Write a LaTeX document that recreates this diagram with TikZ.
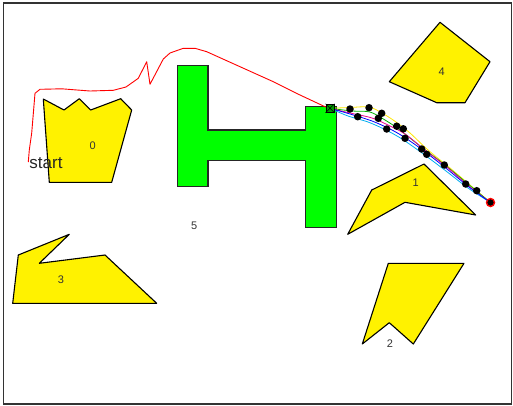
\documentclass[tikz,border=0pt]{standalone}
\usepackage{fontspec}
\setmainfont{Liberation Sans}
\begin{document}
\begin{tikzpicture}[x=1pt,y=-1pt,
  obst/.style={fill=yellow,draw=black,line width=1.1pt,line join=round},
  wall/.style={fill=green,draw=black!85,line width=1.1pt},
  lbl/.style={font=\fontsize{11}{13}\selectfont,text=black!80,inner sep=0pt},
  dot/.style={circle,fill=black,inner sep=0pt,minimum size=7.5pt},
  traj/.style={line width=0.8pt}]
\useasboundingbox (0,0) rectangle (513,405);
\draw[line width=1.2pt,black!80] (3.5,3) rectangle (511.5,404);
% obstacles
\draw[obst] (43.3,99) -- (64,110) -- (79.3,98.7) -- (90.7,110) -- (120.7,98.7) -- (131.7,110) -- (111.7,182.3) -- (49.3,182.3) -- cycle;
\draw[obst] (440,22.3) -- (490,61.7) -- (465,102.7) -- (436.7,102.7) -- (389.3,81.7) -- cycle;
\draw[obst] (424,164) -- (475.7,215) -- (405,202.3) -- (347.7,234.3) -- (371.7,190) -- cycle;
\draw[obst] (388.3,263.3) -- (464,263.3) -- (413.3,344) -- (389.3,322.7) -- (362.3,344) -- cycle;
\draw[obst] (69.3,234.3) -- (39.3,263.3) -- (105,255) -- (156.7,303.3) -- (12.7,303.3) -- (18.3,255) -- cycle;
\draw[wall] (177.3,65.7) -- (208,65.7) -- (208,130) -- (305.7,130) -- (305.7,106.7) -- (336.3,106.7) -- (336.3,227.7) -- (305.7,227.7) -- (305.7,160.7) -- (208,160.7) -- (208,186.7) -- (177.3,186.7) -- cycle;
% labels
\node[lbl] (l0) at (92.7,146) {0};
\node[lbl] (l1) at (415.7,182.3) {1};
\node[lbl] (l2) at (390,343.3) {2};
\node[lbl] (l3) at (61,279.3) {3};
\node[lbl] (l4) at (441.7,71.7) {4};
\node[lbl] (l5) at (194.3,225.7) {5};
% red path
\draw[red,line width=0.9pt,line join=round] (28.3,162) -- (29.3,150) -- (31.7,133) -- (35,93.3) -- (40,89.3) -- (61.7,88.8) -- (90,91) -- (113.3,90.3) -- (126,87) -- (138.3,78.3) -- (146.7,61.7) -- (150,84.3) -- (163.3,59) -- (170,53) -- (183.3,48.3) -- (195,48.3) -- (206.7,51.7) -- (240,66.7) -- (273.3,81.7) -- (300,95) -- (325,106.7) -- (330,108.3);
\node[font=\fontsize{17}{19}\selectfont,text=black!85,inner sep=0pt] (start) at (46,163.5) {start};
% trajectories
\coordinate (s) at (330,108.3);
\coordinate (g) at (490.5,202.5);
\draw[traj,yellow!90!orange] plot[smooth] coordinates {(s) (350,107.5) (369,107) (382,113) (396,122) (410,133) (428,150) (450,168) (470,185) (g)};
\draw[traj,green!70!black] plot[smooth] coordinates {(s) (352,111) (370,112) (385,120) (400,130) (420,146) (445,165) (468,184) (g)};
\draw[traj,magenta] plot[smooth] coordinates {(s) (350,113) (372,118) (390,126) (405,134) (425,150) (448,168) (470,187) (g)};
\draw[traj,cyan] plot[smooth] coordinates {(s) (348,116) (368,122) (386,130) (402,139) (422,153) (446,171) (468,188) (g)};
\draw[traj,blue] plot[smooth] coordinates {(s) (350,114) (372,121) (390,129) (404,137) (424,151) (447,169) (469,187) (g)};
% dots
\foreach \p/\n in {{(350,109)}/d1,{(357.7,116.7)}/d2,{(369,107.7)}/d3,{(381.7,113.3)}/d4,{(378.3,118.3)}/d5,{(386.7,129)}/d6,{(396.7,126.2)}/d7,{(403.3,128.8)}/d8,{(405,138.3)}/d9,{(421.7,149)}/d10,{(426.7,154.3)}/d11,{(444.3,165)}/d12,{(465.7,184)}/d13,{(476.7,190.7)}/d14}
  \node[dot] (\n) at \p {};
\node[draw=black,fill=green!60!black,line width=1pt,inner sep=0pt,minimum size=8pt] (sq) at (s) {};
\draw[black,line width=0.6pt] (sq.north west) -- (sq.south east) (sq.north east) -- (sq.south west);
\node[circle,fill=black,draw=red,line width=1.4pt,inner sep=0pt,minimum size=8pt] (goal) at (g) {};
\end{tikzpicture}
\end{document}
